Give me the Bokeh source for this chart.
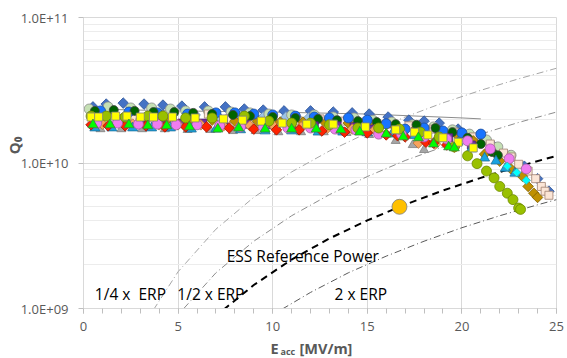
import numpy as np
from bokeh.plotting import figure
from bokeh.layouts import column
from bokeh.models import FixedTicker, CustomJSTickFormatter, Label, Range1d
from bokeh.embed import file_html
from bokeh.resources import INLINE

# ---------------- data (Q0 values in units of 1e10) ----------------
x_ticks = [0, 5, 10, 15, 20, 25]
y_ticks = [1e9, 1e10, 1e11]

# power curves (Q0 vs Eacc)
e_erp = [7.4, 9, 11, 13, 15, 17, 19, 21, 23, 25]
q_erp = [0.098, 0.145, 0.217, 0.303, 0.403, 0.518, 0.647, 0.79, 0.948, 1.12]
e_q4 = [3.7, 5, 7, 9, 11, 13, 15, 17, 19, 21, 23, 25]
q_q4 = [0.098, 0.179, 0.351, 0.581, 0.868, 1.21, 1.61, 2.07, 2.59, 3.16, 3.79, 4.48]
e_h2 = [5.3, 7, 9, 11, 13, 15, 17, 19, 21, 23, 25]
q_h2 = [0.10, 0.176, 0.29, 0.434, 0.606, 0.807, 1.04, 1.29, 1.58, 1.90, 2.24]
e_d2 = [10.5, 12, 14, 16, 18, 20, 22, 24, 25]
q_d2 = [0.099, 0.129, 0.176, 0.229, 0.29, 0.359, 0.434, 0.516, 0.56]

# grey line series
e_gl = [0.3, 5.0, 10.0, 15.0, 20.0, 21.0]
q_gl = [2.35, 2.28, 2.24, 2.17, 2.04, 2.01]

# cavity measurement series
e_bd = [0.5, 1.2, 2.1, 3.2, 4.2, 5.2, 6.4, 7.5, 8.5, 9.5, 10.6, 12.0, 13.2, 14.2, 15.1, 16.1, 17.2, 18.0, 18.8, 19.8, 20.8, 21.7, 22.5, 23.3, 24.0, 24.6]
q_bd = [2.43, 2.54, 2.58, 2.54, 2.50, 2.46, 2.43, 2.43, 2.35, 2.31, 2.28, 2.28, 2.24, 2.21, 2.17, 2.07, 1.97, 1.94, 1.88, 1.71, 1.50, 1.30, 1.12, 0.95, 0.78, 0.64]

e_lb = [1.1, 2.3, 3.5, 4.7, 5.9, 7.1, 8.3, 9.5, 10.7, 11.9, 13.1, 14.3, 15.3, 16.4, 17.5, 18.6, 19.7, 20.8]
q_lb = [2.17, 2.17, 2.17, 2.14, 2.14, 2.10, 2.10, 2.07, 2.07, 2.04, 2.01, 1.97, 1.91, 1.85, 1.80, 1.71, 1.63, 1.51]

e_lg = [0.3, 1.3, 2.5, 3.6, 4.6, 5.4, 6.6, 7.8, 8.8, 9.8, 11.0, 12.2, 13.2, 14.3, 15.3, 16.3, 17.4, 18.5, 19.5, 20.4, 21.3, 21.9, 22.6]
q_lg = [2.35, 2.43, 2.39, 2.39, 2.35, 2.28, 2.28, 2.24, 2.21, 2.17, 2.14, 2.14, 2.07, 2.04, 1.97, 1.91, 1.83, 1.77, 1.69, 1.58, 1.44, 1.29, 1.13]

e_ps = [0.6, 1.6, 2.6, 3.7, 4.7, 5.6, 6.6, 7.7, 8.8, 10.0, 11.3, 12.5, 13.7, 14.9, 16.0, 17.2, 18.5, 19.6, 20.6, 21.5, 22.2, 22.6, 23.0, 23.5, 23.9, 24.2, 24.4, 24.6]
q_ps = [2.04, 2.04, 2.07, 2.04, 2.04, 2.04, 2.17, 2.01, 2.01, 1.97, 1.97, 2.01, 1.94, 1.91, 1.85, 1.80, 1.71, 1.63, 1.51, 1.35, 1.17, 1.10, 0.98, 0.88, 0.78, 0.69, 0.64, 0.60]

e_gd = [0.8, 2.0, 3.2, 4.4, 5.6, 6.8, 8.0, 9.2, 10.4, 11.6, 12.8, 14.0, 15.2, 16.4, 17.6, 18.8, 19.8, 20.6, 21.2, 22.0, 22.6, 23.2, 23.5, 23.8, 24.0]
q_gd = [2.01, 2.01, 2.01, 1.97, 1.97, 1.97, 1.94, 1.94, 1.91, 1.91, 1.88, 1.88, 1.85, 1.80, 1.74, 1.66, 1.53, 1.42, 1.15, 1.03, 0.91, 0.81, 0.69, 0.62, 0.58]

e_bc = [0.9, 2.4, 3.9, 5.5, 7.0, 8.0, 9.0, 10.0, 11.2, 12.2, 13.0, 14.0, 15.0, 16.0, 17.0, 18.0, 19.0, 20.0, 21.0]
q_bc = [2.28, 2.24, 2.21, 2.17, 2.21, 2.21, 2.17, 2.14, 2.10, 2.07, 2.04, 2.04, 1.97, 1.86, 1.71, 1.74, 1.66, 1.61, 1.58]

e_dg = [0.6, 1.6, 2.7, 3.7, 4.8, 5.8, 6.8, 7.9, 8.8, 10.0, 11.2, 12.4, 13.4, 14.5, 15.5, 16.5, 17.6, 18.6, 19.5, 20.3, 21.0, 21.6, 21.9]
q_dg = [2.28, 2.31, 2.28, 2.24, 2.24, 2.21, 2.17, 2.14, 2.10, 2.07, 2.04, 2.01, 1.97, 1.94, 1.91, 1.85, 1.83, 1.74, 1.63, 1.49, 1.35, 1.19, 1.13]

e_gr = [0.9, 2.0, 3.1, 4.3, 5.5, 6.7, 7.9, 9.1, 10.3, 11.5, 12.7, 13.9, 15.1, 16.5, 17.4, 18.0]
q_gr = [1.71, 1.71, 1.71, 1.71, 1.69, 1.69, 1.66, 1.66, 1.63, 1.63, 1.63, 1.61, 1.56, 1.42, 1.33, 1.23]

e_pu = [0.7, 1.9, 3.0, 4.1, 5.2, 6.3, 7.4, 8.6, 9.8, 11.0, 12.2, 13.4, 14.3, 15.3, 16.5, 17.8, 19.3, 20.5]
q_pu = [1.91, 1.91, 1.91, 1.88, 1.88, 1.88, 1.85, 1.85, 1.83, 1.83, 1.80, 1.80, 1.77, 1.71, 1.66, 1.58, 1.49, 1.33]

e_or = [1.0, 2.6, 4.0, 5.0, 6.2, 7.4, 8.8, 10.1, 11.5, 12.9, 14.2, 15.4, 16.0, 17.7, 18.6, 19.6]
q_or = [1.85, 1.85, 1.83, 1.83, 1.83, 1.80, 1.80, 1.77, 1.77, 1.74, 1.71, 1.69, 1.58, 1.37, 1.35, 1.29]

e_ct = [0.6, 1.5, 2.6, 3.6, 4.6, 5.7, 7.0, 8.3, 9.6, 11.0, 12.4, 13.7, 15.0, 16.3, 17.5, 18.7, 19.8, 20.5, 21.2, 21.8, 22.3, 22.8]
q_ct = [1.74, 1.74, 1.74, 1.74, 1.74, 1.71, 1.71, 1.69, 1.66, 1.66, 1.63, 1.63, 1.61, 1.58, 1.54, 1.49, 1.39, 1.25, 1.08, 1.03, 0.92, 0.85]

e_rd = [0.4, 1.3, 2.2, 3.3, 4.3, 5.4, 6.5, 7.7, 9.0, 10.2, 11.4, 12.6, 13.8, 15.0, 16.0, 16.6, 17.0, 18.1, 18.5, 19.2, 19.6]
q_rd = [1.83, 1.80, 1.80, 1.80, 1.77, 1.77, 1.77, 1.74, 1.71, 1.69, 1.69, 1.66, 1.63, 1.61, 1.56, 1.54, 1.51, 1.39, 1.37, 1.33, 1.29]

e_mc = [0.7, 1.8, 2.9, 3.9, 4.9, 6.0, 7.2, 8.3, 9.5, 10.8, 12.0, 13.3, 14.4, 15.6, 16.8, 18.0, 19.2, 20.3, 21.5, 22.5, 23.4]
q_mc = [1.88, 1.88, 1.85, 1.85, 1.83, 1.83, 1.80, 1.77, 1.77, 1.74, 1.74, 1.71, 1.69, 1.58, 1.58, 1.51, 1.46, 1.42, 1.25, 1.07, 0.91]

e_yg = [0.4, 1.2, 2.2, 3.4, 4.2, 5.4, 6.8, 8.5, 9.8, 11.0, 12.0, 13.0, 14.5, 15.6, 16.7, 17.8, 18.8, 19.6, 20.3, 20.8, 21.3, 21.7, 22.0, 22.4, 22.7, 23.0, 23.1]
q_yg = [2.10, 2.10, 2.07, 2.10, 2.10, 2.04, 2.04, 2.10, 1.94, 1.88, 1.88, 1.83, 1.74, 1.74, 1.71, 1.63, 1.51, 1.29, 1.12, 0.99, 0.88, 0.79, 0.69, 0.62, 0.56, 0.49, 0.48]

e_ys = [0.4, 0.8, 1.7, 2.3, 3.0, 3.7, 4.7, 5.9, 7.4, 8.4, 9.4, 10.5, 11.8, 13.2, 14.9, 16.5, 17.5, 18.2, 19.0, 19.8, 20.6]
q_ys = [2.07, 2.07, 2.10, 2.10, 2.07, 2.07, 2.07, 2.04, 2.01, 1.97, 1.94, 1.88, 1.85, 1.85, 1.77, 1.69, 1.63, 1.56, 1.49, 1.39, 1.27]

e_gt = [0.5, 1.4, 2.4, 3.4, 4.4, 5.6, 7.1, 8.2, 9.6, 11.0, 12.3, 13.6, 14.6, 16.0, 16.9, 17.7, 18.5, 19.3, 19.6]
q_gt = [1.83, 1.83, 1.83, 1.80, 1.80, 1.77, 1.71, 1.74, 1.71, 1.71, 1.71, 1.69, 1.63, 1.58, 1.51, 1.49, 1.35, 1.29, 1.27]

e_cd = [22.4, 22.9, 23.4]
q_cd = [0.95, 0.86, 0.76]

e_ob = [16.7]
q_ob = [0.50]

UNIT = 1e10
FONT = "Open Sans"
GRID = "#d9d9d9"
TXT = "#595959"
LEFT, RIGHT = 83, 11

p = figure(width=567, height=340, x_range=Range1d(0, 25), y_range=Range1d(1e9, 1e11),
           y_axis_type="log", output_backend="svg", toolbar_location=None,
           min_border_left=LEFT, min_border_right=RIGHT, min_border_top=17, min_border_bottom=32)
p.background_fill_color = "white"
p.border_fill_color = "white"
p.outline_line_color = GRID

p.xaxis.ticker = FixedTicker(ticks=x_ticks, minor_ticks=list(range(0, 26)))
p.yaxis.ticker = FixedTicker(ticks=y_ticks,
                             minor_ticks=[m * 10.0 ** k for k in (9, 10) for m in range(2, 10)])
p.yaxis.formatter = CustomJSTickFormatter(code="""
    var s = tick.toExponential(1).toUpperCase();
    return s.replace(/E\\+(\\d)$/, 'E+0$1');
""")
for ax in (p.xaxis, p.yaxis):
    ax.axis_line_color = GRID
    ax.major_tick_line_color = "#bfbfbf"
    ax.minor_tick_line_color = "#bfbfbf"
    ax.major_tick_in = 0
    ax.major_tick_out = 5
    ax.major_label_text_font = FONT
    ax.major_label_text_font_size = "13px"
    ax.major_label_text_color = TXT
p.xaxis.minor_tick_in = 0
p.xaxis.minor_tick_out = 5
p.yaxis.minor_tick_in = 0
p.yaxis.minor_tick_out = 0
p.xaxis.major_label_standoff = 8
p.yaxis.major_label_standoff = 10

# y axis title Q0 (leading no-break spaces shift it up like the reference)
p.yaxis.axis_label = "\u00a0" * 9 + "Q\u2080"
p.yaxis.axis_label_text_font = FONT
p.yaxis.axis_label_text_font_size = "15px"
p.yaxis.axis_label_text_font_style = "bold"
p.yaxis.axis_label_text_color = TXT
p.yaxis.axis_label_standoff = -6

p.xgrid.grid_line_color = GRID
p.ygrid.grid_line_color = GRID
p.ygrid.minor_grid_line_color = "#ececec"

# power curves
p.line(e_q4, np.array(q_q4) * UNIT, line_color="#a6a6a6", line_width=1, line_dash="7 3 1 3")
p.line(e_h2, np.array(q_h2) * UNIT, line_color="#8c8c8c", line_width=1, line_dash="7 3 1 3")
p.line(e_d2, np.array(q_d2) * UNIT, line_color="#595959", line_width=1, line_dash="7 3 1 3")
p.line(e_erp, np.array(q_erp) * UNIT, line_color="black", line_width=2, line_dash="7 5")

p.line(e_gl, np.array(q_gl) * UNIT, line_color="#8c8c8c", line_width=1)


def add(e, q, marker, size, fill, line, angle=0.0):
    p.scatter(e, np.array(q) * UNIT, marker=marker, size=size, angle=angle,
              fill_color=fill, line_color=line, line_width=0.8)


D = np.pi / 4
add(e_bd, q_bd, "square", 7.5, "#4472c4", "#2f5597", D)
add(e_lb, q_lb, "square", 7.5, "#9dc3e6", "#6f8fb0", D)
add(e_lg, q_lg, "circle", 10, "#c5e0b4", "#8c8c8c")
add(e_ps, q_ps, "square", 8, "#fbe5d6", "#a08070")
add(e_gd, q_gd, "square", 7.5, "#bf9000", "#7f6000", D)
add(e_bc, q_bc, "circle", 10, "#1874ff", "#1f4e9a")
add(e_dg, q_dg, "circle", 9, "#006400", "#404040")
add(e_gr, q_gr, "triangle", 9, "#a6a6a6", "#7f7f7f")
add(e_pu, q_pu, "square", 8, "#7030a0", "#4b2070")
add(e_or, q_or, "square", 7.5, "#f7a35c", "#b07040", D)
add(e_ct, q_ct, "triangle", 10, "#1aa3e0", "#1f6f99")
add(e_rd, q_rd, "square", 7.5, "#ff2200", "#a01500", D)
add(e_mc, q_mc, "circle", 10, "#f07cf0", "#a060a0")
add(e_yg, q_yg, "circle", 10, "#99c000", "#6f8a00")
add(e_ys, q_ys, "square", 8, "#ffff00", "#7f7f7f")
add(e_gt, q_gt, "triangle", 10, "#00ff00", "#3f7f3f")
add(e_cd, q_cd, "square", 6, "#00ffff", "#4f9f9f", D)
add(e_ob, q_ob, "circle", 15, "#ffc000", "#7f7f7f")

# curve annotations
for txt, x, y in [("1/4 x\u00a0 ERP", 0.6, 1.25e9), ("1/2 x ERP", 4.96, 1.25e9),
                  ("2 x ERP", 13.27, 1.25e9), ("ESS Reference Power", 7.57, 2.28e9)]:
    p.add_layout(Label(x=x, y=y, text=txt, text_font=FONT, text_font_size="15.5px",
                       text_color="black", text_baseline="alphabetic"))

# x axis title strip (E_acc [MV/m]) below the chart; its frame is aligned
# with the chart frame, so its x range is expressed in page pixels.
strip = figure(width=567, height=18, x_range=Range1d(LEFT, 567 - RIGHT), y_range=Range1d(0, 18),
               output_backend="svg", toolbar_location=None,
               min_border_left=LEFT, min_border_right=RIGHT, min_border_top=0, min_border_bottom=0,
               x_axis_location=None, y_axis_location=None)
strip.grid.visible = False
strip.outline_line_color = None
strip.background_fill_color = "white"
strip.border_fill_color = "white"


def slabel(text, x, y, size):
    strip.add_layout(Label(x=x, y=y, text=text, text_font=FONT, text_font_size=size,
                           text_font_style="bold", text_color=TXT,
                           text_baseline="alphabetic"))


slabel("E", 270, 10.1, "14.5px")
slabel("acc", 280, 6.6, "9px")
slabel("[MV/m]", 299, 10.1, "14.5px")

open("out.html", "w").write(file_html(column(p, strip, spacing=0), INLINE))
